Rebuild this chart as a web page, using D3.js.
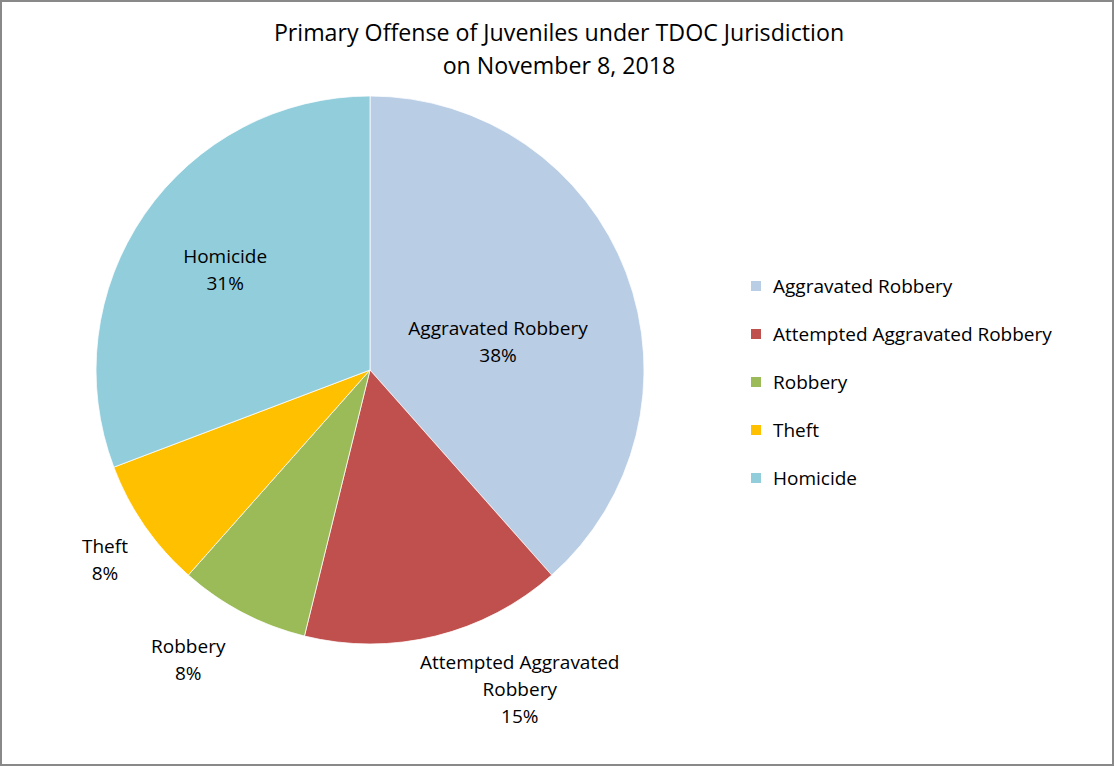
<!DOCTYPE html>
<html>
<head>
<meta charset="utf-8">
<script src="https://cdn.jsdelivr.net/npm/d3@7"></script>
<style>
  body { margin: 0; background: #fff; }
  svg text { font-family: "Open Sans", "Liberation Sans", sans-serif; fill: #000; }
</style>
</head>
<body>
<svg id="chart" width="1115" height="767"></svg>
<script>
// data (counts of juveniles, 13 total -> 38/15/8/8/31 %)
const categories = ["Aggravated Robbery", "Attempted Aggravated Robbery", "Robbery", "Theft", "Homicide"];
const counts = [5, 2, 1, 1, 4];
const labelLines = [["Aggravated Robbery"], ["Attempted Aggravated", "Robbery"], ["Robbery"], ["Theft"], ["Homicide"]];
const colors = ["#B9CDE5", "#C0504D", "#9BBB59", "#FFC000", "#92CDDC"];
const titleLines = ["Primary Offense of Juveniles under TDOC Jurisdiction", "on November 8, 2018"];

// where excel put each data label: angle (deg clockwise from top), distance from centre
const labelPolar = [[77.7, 131], [154.9, 353], [212.1, 342], [234.4, 326], [304.6, 176]];

const svg = d3.select("#chart");
const width = +svg.attr("width");
const height = +svg.attr("height");

svg.append("rect")
  .attr("x", 1).attr("y", 1)
  .attr("width", width - 3).attr("height", height - 3)
  .attr("fill", "#fff")
  .attr("stroke", "#898989")
  .attr("stroke-width", 2);

// title
svg.append("text")
  .attr("x", 559).attr("y", 41)
  .attr("text-anchor", "middle")
  .style("font-size", "23.2px")
  .selectAll("tspan")
  .data(titleLines)
  .enter().append("tspan")
  .attr("x", 559)
  .attr("dy", (d, i) => i ? 33 : 0)
  .text(d => d);

const cx = 370, cy = 370, radius = 274;
const total = d3.sum(counts);
const pct = d3.format(".0%");

const pie = d3.pie().sort(null).value(d => d);
const arc = d3.arc().innerRadius(0).outerRadius(radius);
const arcs = pie(counts);

const g = svg.append("g").attr("transform", `translate(${cx},${cy})`);

g.selectAll("path")
  .data(arcs)
  .enter().append("path")
  .attr("d", arc)
  .attr("fill", (d, i) => colors[i])
  .attr("stroke", "#fff")
  .attr("stroke-width", 0.75);

// data labels
const lineH = 27;
arcs.forEach((a, i) => {
  const [ang, r] = labelPolar[i];
  const t = ang * Math.PI / 180;
  const x = r * Math.sin(t);
  const y = -r * Math.cos(t);
  const lines = labelLines[i].concat([pct(counts[i] / total)]);
  const y0 = y - (lines.length - 1) * lineH / 2;
  const txt = g.append("text")
    .attr("text-anchor", "middle")
    .style("font-size", "19px");
  lines.forEach((l, j) => {
    txt.append("tspan")
      .attr("x", x)
      .attr("y", y0 + j * lineH)
      .attr("dy", "0.35em")
      .text(l);
  });
});

// legend
const legend = svg.append("g").attr("transform", "translate(751,286)");
const item = legend.selectAll("g")
  .data(categories)
  .enter().append("g")
  .attr("transform", (d, i) => `translate(0,${i * 48})`);
item.append("rect")
  .attr("x", 0).attr("y", -5)
  .attr("width", 10).attr("height", 10)
  .attr("fill", (d, i) => colors[i]);
item.append("text")
  .attr("x", 22)
  .attr("dy", "0.35em")
  .style("font-size", "19px")
  .text(d => d);
</script>
</body>
</html>
